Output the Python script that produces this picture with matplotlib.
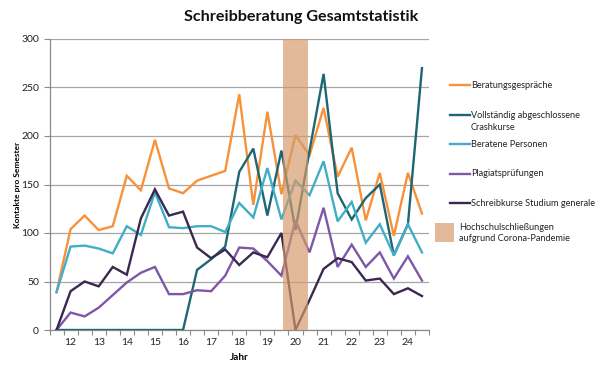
import matplotlib
matplotlib.use("Agg")
import matplotlib.pyplot as plt
from matplotlib.lines import Line2D
from matplotlib.patches import Rectangle
import numpy as np

plt.rcParams['font.family'] = ['Lato', 'DejaVu Sans']

# Semester positions (half-year steps)
semester = [11.5 + 0.5 * i for i in range(27)]

beratungsgespraeche = [39, 104, 118, 103, 107, 159, 144, 196, 146, 141, 154, 159, 164, 243,
                       129, 225, 140, 201, 180, 229, 158, 188, 113, 162, 97, 162, 120]
crashkurse = [0, 0, 0, 0, 0, 0, 0, 0, 0, 0, 62, 73, 86, 163, 187, 118, 185, 103, 185, 264,
              141, 114, 136, 150, 77, 109, 270]
beratene_personen = [39, 86, 87, 84, 79, 107, 98, 142, 106, 105, 107, 107, 101, 131, 116, 167,
                     114, 154, 139, 174, 112, 132, 90, 109, 77, 109, 80]
plagiatspruefungen = [0, 18, 14, 23, 36, 49, 59, 65, 37, 37, 41, 40, 56, 85, 84, 71, 56, 113,
                      80, 126, 65, 88, 65, 80, 53, 76, 51]
schreibkurse = [0, 40, 50, 45, 65, 57, 115, 145, 118, 122, 85, 74, 83, 67, 80, 75, 100, 0, 31,
                63, 74, 70, 51, 53, 37, 43, 35]

series_labels = ["Beratungsgespräche", "Vollständig abgeschlossene\nCrashkurse",
                 "Beratene Personen", "Plagiatsprüfungen", "Schreibkurse Studium generale"]
series_values = [beratungsgespraeche, crashkurse, beratene_personen, plagiatspruefungen, schreibkurse]
colors = ["#F7923A", "#1E6672", "#40AEC6", "#7E57A8", "#3B2850"]

year_ticks = list(range(12, 25))
y_ticks = [0, 50, 100, 150, 200, 250, 300]
closure_span = (19.55, 20.45)
closure_label = "Hochschulschließungen\naufgrund Corona-Pandemie"

W, H = 600, 372
fig = plt.figure(figsize=(6, 3.72), dpi=100)
ax = fig.add_axes([49.5 / W, 1 - 330 / H, (429 - 49.5) / W, (330 - 39) / H])

for vals, c in zip(series_values, colors):
    ax.plot(semester, vals, color=c, lw=1.7, zorder=3, solid_joinstyle='miter')

band_color = "#D59A6A"
ax.axvspan(*closure_span, color=band_color, alpha=0.68, lw=0, zorder=4)

ax.set_xlim(11.25, 24.75)
ax.set_ylim(0, 300)
ax.set_yticks(y_ticks)
ax.set_xticks(year_ticks)
ax.set_xticks(np.arange(11.25, 24.76, 0.5), minor=True)
ax.tick_params(axis='x', which='major', length=0, labelsize=7.5, pad=6, colors='#222222')
ax.tick_params(axis='x', which='minor', length=3.5, color='#8a8a8a', width=0.8)
ax.tick_params(axis='y', length=4, width=0.8, labelsize=7.5, colors='#8a8a8a', labelcolor='#222222')
ax.grid(axis='y', color='#a6a6a6', lw=0.9, zorder=0)
ax.set_axisbelow(True)
for s in ['top', 'right']:
    ax.spines[s].set_visible(False)
for s in ['left', 'bottom']:
    ax.spines[s].set_color('#8a8a8a')
    ax.spines[s].set_linewidth(0.9)

ax.set_xlabel("Jahr", fontsize=7.2, fontweight='bold', labelpad=4)
ax.set_ylabel("Kontakte pro Semester", fontsize=6.0, fontweight='bold')
ax.yaxis.set_label_coords(-0.074, 0.5)

fig.text(301 / W, 1 - 17 / H, "Schreibberatung Gesamtstatistik", ha='center', va='center',
         fontsize=11.6, fontweight='bold', color='#111111')

# Legend (manual layout to match the reference)
legend_fs = 6.6
legend_y = [85, 115, 144.3, 174, 203.3]
for lab, c, yy in zip(series_labels, colors, legend_y):
    yf = 1 - yy / H
    fig.add_artist(Line2D([450 / W, 470 / W], [yf, yf], color=c, lw=1.7,
                          transform=fig.transFigure))
    fig.text(471 / W, yf, lab.split("\n")[0], ha='left', va='center', fontsize=legend_fs,
             color='#222222')
    if "\n" in lab:
        fig.text(471 / W, 1 - (yy + 12.3) / H, lab.split("\n")[1], ha='left', va='center',
                 fontsize=legend_fs, color='#222222')

fig.add_artist(Rectangle((435 / W, 1 - 241.7 / H), 19 / W, 19 / H, facecolor=band_color,
                         alpha=0.68, lw=0, transform=fig.transFigure))
fig.text(459 / W, 1 - 233 / H, closure_label, ha='left', va='center', fontsize=legend_fs,
         color='#222222', linespacing=1.35)

fig.savefig("out.png", dpi=100)
